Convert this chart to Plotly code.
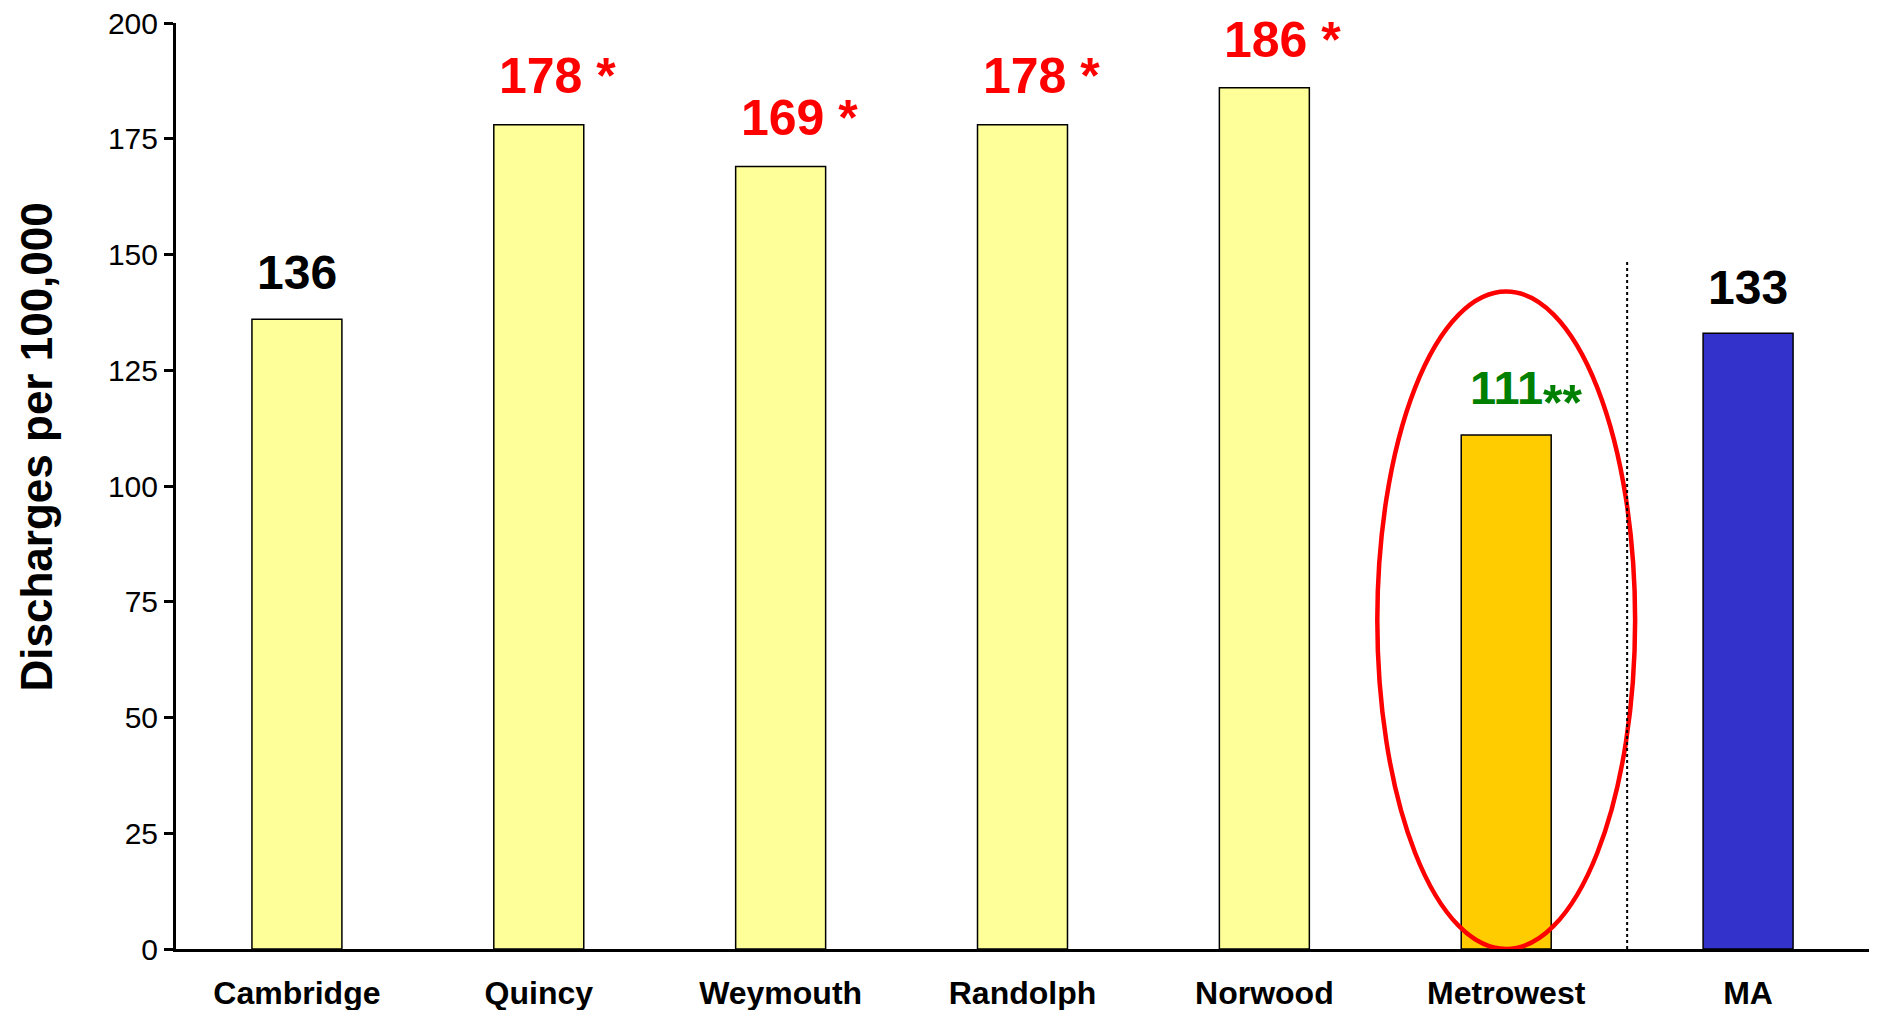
import plotly.graph_objects as go

categories = ["Cambridge", "Quincy", "Weymouth", "Randolph", "Norwood", "Metrowest", "MA"]
values = [136, 178, 169, 178, 186, 111, 133]
value_labels = ["136", "178", "169", "178", "186", "111", "133"]
value_marks = ["", " *", " *", " *", " *", "", ""]
y_tick_vals = [0, 25, 50, 75, 100, 125, 150, 175, 200]
y_title = "Discharges per 100,000"

bar_colors = ["#FFFF99"] * 5 + ["#FFCC00", "#3333CC"]
label_colors = ["black", "red", "red", "red", "red", "#008000", "black"]
label_sizes = [48, 50, 50, 50, 50, 47, 48]
label_shift = [18, 19, 19, 19, 18, 19, 17]

fig = go.Figure()
fig.add_trace(go.Bar(
    x=list(range(len(categories))), y=values,
    marker=dict(color=bar_colors, line=dict(color="black", width=1.5)),
    width=0.372, hoverinfo="skip",
))

annotations = []
for i, (v, t, m) in enumerate(zip(values, value_labels, value_marks)):
    if m:
        # digits centred on the bar, the asterisk hanging to the right
        annotations.append(dict(
            x=i, y=v, xref="x", yref="y", text=t + m, showarrow=False,
            xanchor="left", yanchor="bottom", yshift=label_shift[i], xshift=-42,
            font=dict(family="Liberation Sans", size=label_sizes[i], color=label_colors[i], weight=700),
        ))
    else:
        annotations.append(dict(
            x=i, y=v, xref="x", yref="y", text=t, showarrow=False,
            xanchor="center", yanchor="bottom", yshift=label_shift[i],
            font=dict(family="Liberation Sans", size=label_sizes[i], color=label_colors[i], weight=700),
        ))
# double asterisk after Metrowest value
annotations.append(dict(
    x=5, y=values[5], xref="x", yref="y", text="**", showarrow=False,
    xanchor="left", yanchor="bottom", xshift=35, yshift=2,
    font=dict(family="Liberation Sans", size=50, color="#008000", weight=700),
))
annotations.append(dict(
    x=-0.0827, y=0.5427, xref="paper", yref="paper", text=y_title, showarrow=False,
    textangle=-90, xanchor="center", yanchor="middle",
    font=dict(family="Liberation Sans", size=44, color="black", weight=700),
))

shapes = [
    dict(type="circle", xref="x", yref="y", x0=4.467, x1=5.533, y0=0, y1=142,
         line=dict(color="red", width=4.5), layer="above"),
    dict(type="line", xref="x", yref="y", x0=5.5, x1=5.5, y0=0, y1=148.5,
         line=dict(color="black", width=2, dash="dot"), layer="above"),
]

fig.update_layout(
    width=1863, height=1002,
    margin=dict(l=168, r=2, t=15, b=61, autoexpand=False),
    paper_bgcolor="white", plot_bgcolor="white",
    showlegend=False,
    annotations=annotations, shapes=shapes,
    font=dict(family="Liberation Sans", color="black"),
)
fig.update_xaxes(
    range=[-0.5, 6.5], tickmode="array", tickvals=list(range(len(categories))), ticktext=categories,
    showline=True, linecolor="black", linewidth=3, ticks="", showgrid=False, zeroline=False,
    tickfont=dict(family="Liberation Sans", size=32, color="black", weight=700),
    ticklabelstandoff=14, ticklabeloverflow="allow", automargin=False,
)
fig.update_yaxes(
    range=[0, 200], tickmode="array", tickvals=y_tick_vals,
    showline=True, linecolor="black", linewidth=3, ticks="outside", ticklen=9, tickwidth=3,
    tickcolor="black", showgrid=False, zeroline=False,
    tickfont=dict(family="Liberation Sans", size=30, color="black"),
    ticklabeloverflow="allow", automargin=False,
)

fig.write_html("out.html")
